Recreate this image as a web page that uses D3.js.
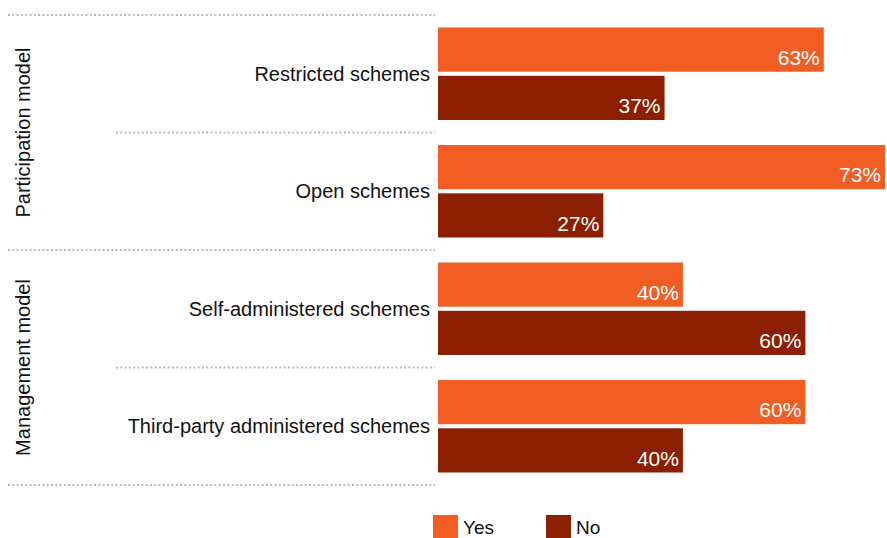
<!DOCTYPE html>
<html><head><meta charset="utf-8">
<script src="https://cdn.jsdelivr.net/npm/d3@7"></script>
<style>body{margin:0;background:#fff;}svg{display:block;font-family:"Liberation Sans",Arial,sans-serif;}</style>
</head><body>
<svg id="c" width="887" height="538"></svg>
<script>
const categories = ["Restricted schemes","Open schemes","Self-administered schemes","Third-party administered schemes"];
const groups = ["Participation model","Management model"];
const groupOf = [0,0,1,1];
const seriesNames = ["Yes","No"];
const yesValues = [63,73,40,60];
const noValues = [37,27,60,40];
const colors = {Yes:"#F15D22", No:"#8B1F00"};

const svg = d3.select("#c");
const x = d3.scaleLinear().domain([0,73]).range([438,885]);
const y = d3.scaleBand().domain(categories).range([15,485]).paddingInner(0).paddingOuter(0);
const inner = d3.scaleBand().domain(seriesNames).range([12.5,y.bandwidth()-12.5]).paddingInner(0.085);

const data = categories.map((c,i)=>({cat:c, Yes:yesValues[i], No:noValues[i]}));

// dotted separators
const seps = [];
categories.forEach((c,i)=>{
  const first = i===0 || groupOf[i]!==groupOf[i-1];
  seps.push({y:y(c), x0: first?8:116});
});
seps.push({y:y.range()[1], x0:8});
svg.selectAll("line.sep").data(seps).join("line")
  .attr("x1",d=>d.x0).attr("x2",435).attr("y1",d=>d.y).attr("y2",d=>d.y)
  .attr("stroke","#bfb8b0").attr("stroke-width",2).attr("stroke-dasharray","2,2.3");

// category labels
svg.selectAll("text.cat").data(categories).join("text")
  .attr("x",430).attr("y",c=>y(c)+y.bandwidth()/2).attr("dy","0.35em")
  .attr("text-anchor","end").attr("font-size",20).attr("fill","#111").text(c=>c);

// group labels
groups.forEach((g,gi)=>{
  const cats = categories.filter((c,i)=>groupOf[i]===gi);
  const y0 = y(cats[0]), y1 = y(cats[cats.length-1])+y.bandwidth();
  svg.append("text").attr("transform",`translate(30,${(y0+y1)/2}) rotate(-90)`)
    .attr("text-anchor","middle").attr("font-size",20).attr("fill","#111").text(g);
});

// bars
const rows = svg.selectAll("g.row").data(data).join("g").attr("transform",d=>`translate(0,${y(d.cat)})`);
seriesNames.forEach(s=>{
  rows.append("rect").attr("x",x(0)).attr("y",inner(s)).attr("height",inner.bandwidth())
    .attr("width",d=>x(d[s])-x(0)).attr("fill",colors[s]);
  rows.append("text").attr("x",d=>x(d[s])-4).attr("y",inner(s)+inner.bandwidth()-7)
    .attr("text-anchor","end").attr("font-size",21).attr("fill","#fff").text(d=>d[s]+"%");
});

// legend
const legend = svg.append("g");
const lx = [433,546];
seriesNames.forEach((s,i)=>{
  legend.append("rect").attr("x",lx[i]).attr("y",515).attr("width",25).attr("height",23).attr("fill",colors[s]);
  legend.append("text").attr("x",lx[i]+30).attr("y",534).attr("font-size",19).attr("fill","#111").text(s);
});
</script>
</body></html>
